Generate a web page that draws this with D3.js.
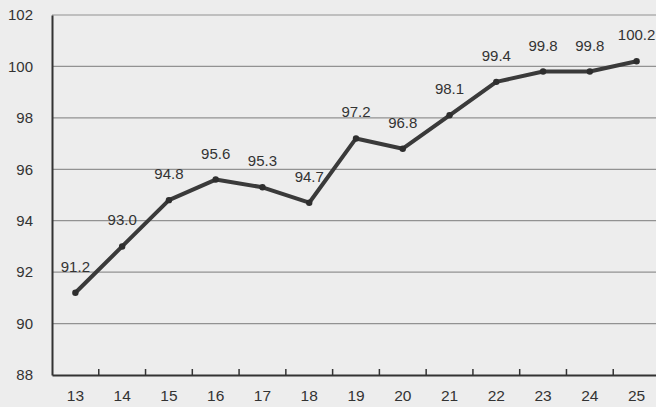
<!DOCTYPE html>
<html>
<head>
<meta charset="utf-8">
<script src="https://cdn.jsdelivr.net/npm/d3@7"></script>
<style>
  body { margin: 0; background: #ededed; }
  svg { display: block; }
  text { font-family: "Liberation Sans", Arial, sans-serif; fill: #333; }
</style>
</head>
<body>
<svg id="chart"></svg>
<script>
// values
let years = ['13', '14', '15', '16', '17', '18', '19', '20', '21', '22', '23', '24', '25'];
let values = [91.2, 93.0, 94.8, 95.6, 95.3, 94.7, 97.2, 96.8, 98.1, 99.4, 99.8, 99.8, 100.2];
let yTicks = [88, 90, 92, 94, 96, 98, 100, 102];

let width = 656;
let height = 407;

let svg = d3.select('#chart')
  .attr('width', width)
  .attr('height', height);

let x = d3.scaleBand()
  .domain(years)
  .range([52, 660]);

let y = d3.scaleLinear()
  .domain([88, 102])
  .range([375, 15]);

// horizontal grid
svg.append('g')
  .selectAll('line')
  .data(yTicks.slice(1))
  .enter()
  .append('line')
  .attr('x1', 52)
  .attr('x2', width)
  .attr('y1', d => y(d))
  .attr('y2', d => y(d))
  .attr('stroke', '#929292')
  .attr('stroke-width', 1.2);

// y axis
let yAxis = svg.append('g')
  .attr('transform', 'translate(52,0)')
  .call(d3.axisLeft(y).tickValues(yTicks).tickSize(0).tickPadding(19));
yAxis.select('.domain').attr('stroke', '#333').attr('stroke-width', 2);
yAxis.selectAll('text').style('font-size', '15px').attr('fill', '#333');

// x axis, ticks between categories pointing up
let xAxis = svg.append('g')
  .attr('transform', 'translate(0,375)')
  .call(d3.axisBottom(x).tickSize(0).tickPadding(15));
xAxis.select('.domain').attr('stroke', '#333').attr('stroke-width', 2);
xAxis.selectAll('text').style('font-size', '15.5px').attr('fill', '#333');

xAxis.selectAll('.sep')
  .data(years.slice(1))
  .enter()
  .append('line')
  .attr('class', 'sep')
  .attr('x1', d => x(d))
  .attr('x2', d => x(d))
  .attr('y1', 0)
  .attr('y2', -6)
  .attr('stroke', '#333')
  .attr('stroke-width', 1.5);

let cx = (d, i) => x(years[i]) + x.bandwidth() / 2;

let line = d3.line()
  .x((d, i) => cx(d, i))
  .y(d => y(d));

svg.append('path')
  .datum(values)
  .attr('d', line)
  .attr('fill', 'none')
  .attr('stroke', '#3a3a3a')
  .attr('stroke-width', 4)
  .attr('stroke-linejoin', 'round')
  .attr('stroke-linecap', 'round');

svg.selectAll('.dot')
  .data(values)
  .enter()
  .append('circle')
  .attr('class', 'dot')
  .attr('cx', cx)
  .attr('cy', d => y(d))
  .attr('r', 3.2)
  .attr('fill', '#2e2e2e');

svg.selectAll('.val')
  .data(values)
  .enter()
  .append('text')
  .attr('class', 'val')
  .attr('x', cx)
  .attr('y', d => y(d) - 21)
  .attr('text-anchor', 'middle')
  .style('font-size', '15px')
  .text(d => d.toFixed(1));
</script>
</body>
</html>
